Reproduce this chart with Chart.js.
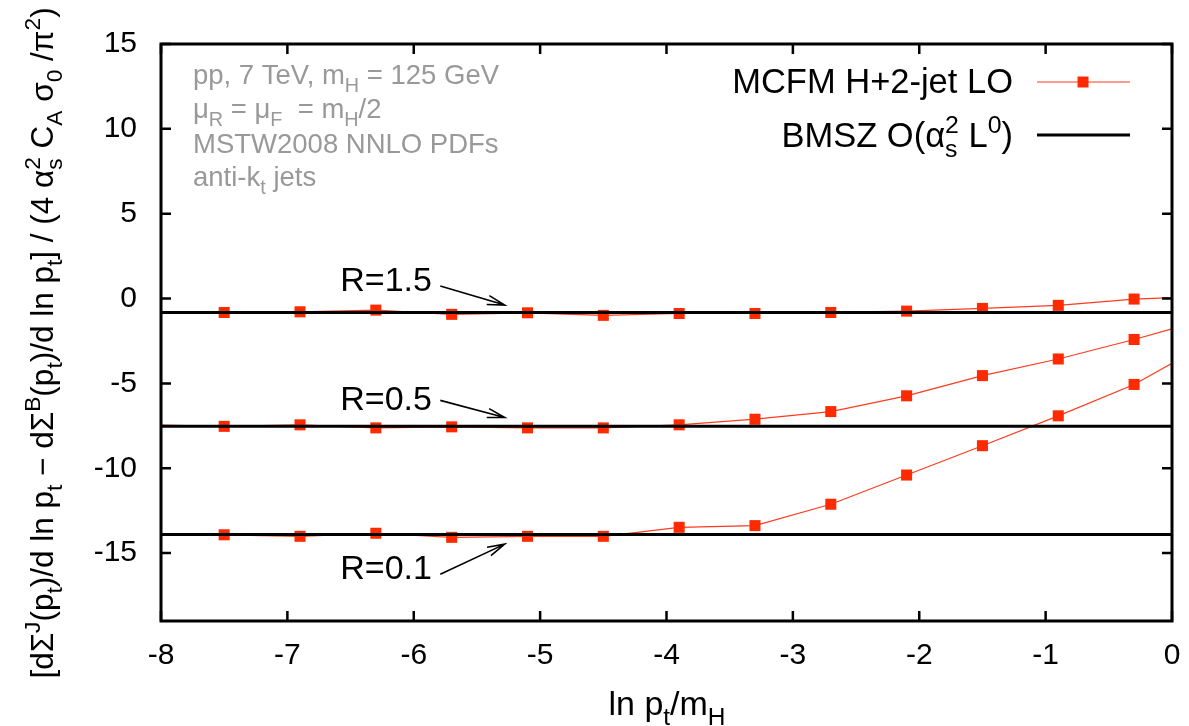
<!DOCTYPE html>
<html><head><meta charset="utf-8">
<script src="https://cdn.jsdelivr.net/npm/chart.js@4.4.0/dist/chart.umd.min.js"></script>
<style>html,body{margin:0;padding:0;background:#fff;}#wrap{width:1189px;height:726px;}</style>
</head><body><div id="wrap"><canvas id="c" width="1189" height="726"></canvas></div>
<script>
// ---- data ----
const lnPt = [-8, -7.5, -6.9, -6.3, -5.7, -5.1, -4.5, -3.9, -3.3, -2.7, -2.1, -1.5, -0.9, -0.3, 0];
const mcfmR15 = [-0.82, -0.82, -0.78, -0.68, -0.93, -0.84, -0.99, -0.88, -0.88, -0.82, -0.74, -0.58, -0.40, -0.03, 0.05];
const mcfmR05 = [-7.45, -7.53, -7.44, -7.62, -7.56, -7.62, -7.62, -7.44, -7.11, -6.66, -5.73, -4.54, -3.56, -2.41, -1.79];
const mcfmR01 = [-13.9, -13.92, -14.01, -13.83, -14.07, -14.01, -14.01, -13.48, -13.38, -12.12, -10.40, -8.67, -6.91, -5.06, -3.82];
const bmszX = [-8, 0];
const bmszR15 = [-0.82, -0.82];
const bmszR05 = [-7.52, -7.52];
const bmszR01 = [-13.9, -13.9];
const xTickValues = [-8, -7, -6, -5, -4, -3, -2, -1, 0];
const yTickValues = [15, 10, 5, 0, -5, -10, -15];
const rLabels = ['R=1.5', 'R=0.5', 'R=0.1'];
const infoLines = [
  ['pp, 7 TeV, m', {sub:'H'}, ' = 125 GeV'],
  ['\u03bc', {sub:'R'}, ' = \u03bc', {sub:'F'}, '  = m', {sub:'H'}, '/2'],
  ['MSTW2008 NNLO PDFs'],
  ['anti-k', {sub:'t'}, ' jets']
];
const legendLabels = [
  ['MCFM H+2-jet LO'],
  ['BMSZ O(\u03b1', {sub:'s', sup:'2'}, ' L', {sup:'0'}, ')']
];
const xTitle = ['ln p', {sub:'t'}, '/m', {sub:'H'}];
const yTitle = ['[d\u03a3', {sup:'J'}, '(p', {sub:'t'}, ')/d ln p', {sub:'t'}, ' \u2212 d\u03a3', {sup:'B'}, '(p', {sub:'t'}, ')/d ln p', {sub:'t'}, '] / (4 \u03b1', {sub:'s', sup:'2'}, ' C', {sub:'A'}, ' \u03c3', {sub:'0'}, ' /\u03c0', {sup:'2'}, ')'];

// ---- styling / layout ----
const FAM = '"Liberation Sans", Arial, sans-serif';
const RED = '#ff2a00';
const LINE_RED = '#ff3b1f';

function pts(xs, ys){ return xs.map((x,i)=>({x:x, y:ys[i]})); }

function measureRich(ctx, segs, size){
  let w = 0;
  for (const s of segs){
    if (typeof s === 'string'){ ctx.font = size+'px '+FAM; w += ctx.measureText(s).width; }
    else { ctx.font = (size*0.72)+'px '+FAM; let ws = 0;
      if (s.sub) ws = Math.max(ws, ctx.measureText(s.sub).width);
      if (s.sup) ws = Math.max(ws, ctx.measureText(s.sup).width);
      w += ws; }
  }
  return w;
}
function drawRich(ctx, segs, x, y, size, align){
  const w = measureRich(ctx, segs, size);
  let cx = align === 'right' ? x - w : (align === 'center' ? x - w/2 : x);
  ctx.textAlign = 'left'; ctx.textBaseline = 'alphabetic';
  for (const s of segs){
    if (typeof s === 'string'){ ctx.font = size+'px '+FAM; ctx.fillText(s, cx, y); cx += ctx.measureText(s).width; }
    else { ctx.font = (size*0.72)+'px '+FAM; let ws = 0;
      if (s.sub){ ctx.fillText(s.sub, cx, y + size*0.28); ws = Math.max(ws, ctx.measureText(s.sub).width); }
      if (s.sup){ ctx.fillText(s.sup, cx, y - size*0.42); ws = Math.max(ws, ctx.measureText(s.sup).width); }
      cx += ws; }
  }
}

const annotations = [
  {text: rLabels[0], tx: -5.856, ty: 0.98,   ax1: -5.79, ay1: 0.74,   ax2: -5.28, ay2: -0.38},
  {text: rLabels[1], tx: -5.856, ty: -6.0,   ax1: -5.79, ay1: -6.0,   ax2: -5.28, ay2: -7.01},
  {text: rLabels[2], tx: -5.856, ty: -15.95, ax1: -5.79, ay1: -16.25, ax2: -5.28, ay2: -14.47}
];

const decor = {
  id: 'decor',
  afterDatasetsDraw(chart){
    const ctx = chart.ctx, a = chart.chartArea, xs = chart.scales.x, ys = chart.scales.y;
    ctx.save();
    // frame
    ctx.strokeStyle = '#000'; ctx.lineWidth = 3;
    ctx.strokeRect(a.left, a.top, a.right - a.left, a.bottom - a.top);
    // inward ticks
    ctx.lineWidth = 2.5; ctx.beginPath();
    const TL = 10;
    for (const v of xTickValues){ const px = xs.getPixelForValue(v);
      ctx.moveTo(px, a.bottom); ctx.lineTo(px, a.bottom - TL);
      ctx.moveTo(px, a.top); ctx.lineTo(px, a.top + TL); }
    for (const v of yTickValues){ const py = ys.getPixelForValue(v);
      ctx.moveTo(a.left, py); ctx.lineTo(a.left + TL, py);
      ctx.moveTo(a.right, py); ctx.lineTo(a.right - TL, py); }
    ctx.stroke();
    // annotations
    ctx.fillStyle = '#000';
    for (const an of annotations){
      const tx = xs.getPixelForValue(an.tx), ty = ys.getPixelForValue(an.ty);
      ctx.font = '34px '+FAM; ctx.textAlign = 'right'; ctx.textBaseline = 'middle';
      ctx.fillText(an.text, tx, ty);
      const x1 = xs.getPixelForValue(an.ax1), y1 = ys.getPixelForValue(an.ay1);
      const x2 = xs.getPixelForValue(an.ax2), y2 = ys.getPixelForValue(an.ay2);
      ctx.lineWidth = 1.6; ctx.beginPath(); ctx.moveTo(x1, y1); ctx.lineTo(x2, y2);
      const ang = Math.atan2(y2 - y1, x2 - x1), hl = 18, ha = 0.26;
      ctx.moveTo(x2 - hl*Math.cos(ang - ha), y2 - hl*Math.sin(ang - ha)); ctx.lineTo(x2, y2);
      ctx.lineTo(x2 - hl*Math.cos(ang + ha), y2 - hl*Math.sin(ang + ha));
      ctx.stroke();
    }
    // info text (grey)
    ctx.fillStyle = '#999999';
    const baselines = [84, 118, 153, 186];
    infoLines.forEach((ln, i) => drawRich(ctx, ln, 193, baselines[i], 27.5, 'left'));
    // legend
    ctx.fillStyle = '#000';
    drawRich(ctx, legendLabels[0], 1013, 93, 34.5, 'right');
    drawRich(ctx, legendLabels[1], 1013, 147, 34.5, 'right');
    ctx.strokeStyle = LINE_RED; ctx.lineWidth = 1.2; ctx.beginPath(); ctx.moveTo(1037, 82); ctx.lineTo(1130, 82); ctx.stroke();
    ctx.fillStyle = RED; ctx.fillRect(1083 - 5.5, 82 - 5.5, 11, 11);
    ctx.strokeStyle = '#000'; ctx.lineWidth = 3; ctx.beginPath(); ctx.moveTo(1037, 135); ctx.lineTo(1130, 135); ctx.stroke();
    // axis titles
    ctx.fillStyle = '#000';
    drawRich(ctx, xTitle, 667, 715, 34, 'center');
    ctx.translate(53, 343); ctx.rotate(-Math.PI/2);
    drawRich(ctx, yTitle, 0, 0, 31.5, 'center');
    ctx.restore();
  }
};

const markerRadius = (c) => { const x = lnPt[c.dataIndex]; return (x <= -8 || x >= 0) ? 0 : 7.8; };
function mcfmSet(label, ys){
  return {label: label, data: pts(lnPt, ys), borderColor: LINE_RED, borderWidth: 1.2,
    pointStyle: 'rect', pointRadius: markerRadius, pointBackgroundColor: RED, pointBorderWidth: 0, tension: 0};
}
function bmszSet(label, ys){
  return {label: label, data: pts(bmszX, ys), borderColor: '#000', borderWidth: 3, pointRadius: 0};
}

new Chart(document.getElementById('c'), {
  type: 'line',
  data: { datasets: [
    bmszSet('BMSZ R=1.5', bmszR15), bmszSet('BMSZ R=0.5', bmszR05), bmszSet('BMSZ R=0.1', bmszR01),
    mcfmSet('MCFM R=1.5', mcfmR15), mcfmSet('MCFM R=0.5', mcfmR05), mcfmSet('MCFM R=0.1', mcfmR01)
  ]},
  options: {
    responsive: false, animation: false, devicePixelRatio: 1,
    layout: { padding: { top: 44, right: 17, left: 0, bottom: 0 } },
    plugins: { legend: { display: false }, tooltip: { enabled: false } },
    scales: {
      x: { type: 'linear', min: -8, max: 0,
        grid: { display: false, drawTicks: false }, border: { display: false },
        ticks: { color: '#000', font: { family: FAM, size: 30 }, padding: 17, maxRotation: 0 },
        afterBuildTicks: s => { s.ticks = xTickValues.map(v => ({value: v})); },
        afterFit: s => { s.height = 105; s.paddingLeft = 0; s.paddingRight = 0; } },
      y: { type: 'linear', min: -19, max: 15,
        grid: { display: false, drawTicks: false }, border: { display: false },
        ticks: { color: '#000', font: { family: FAM, size: 30 }, padding: 24 },
        afterBuildTicks: s => { s.ticks = yTickValues.map(v => ({value: v})); },
        afterFit: s => { s.width = 161; s.paddingTop = 0; s.paddingBottom = 0; } }
    }
  },
  plugins: [decor]
});
</script></body></html>
